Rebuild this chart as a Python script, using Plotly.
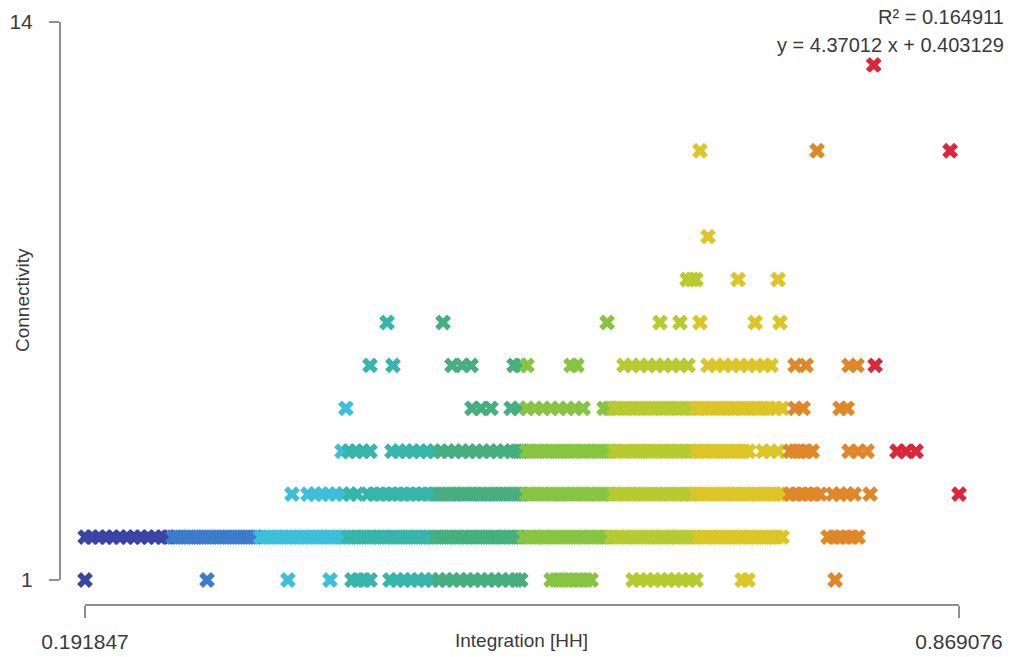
import plotly.graph_objects as go

# ---------------- data ----------------
XMIN = 0.191847
XMAX = 0.869076
R2_TEXT = "R\u00b2 = 0.164911"
EQ_TEXT = "y = 4.37012 x + 0.403129"
X_TITLE = "Integration [HH]"
Y_TITLE = "Connectivity"
Y_TICKS = [1, 14]

# Integration values for each connectivity level
conn_1 = [0.191847, 0.2864, 0.3491, 0.3817, 0.3987, 0.4034, 0.4080, 0.4127,
          0.4282, 0.4336, 0.4390, 0.4445, 0.4499, 0.4553, 0.4607, 0.4662, 0.4716,
          0.4770, 0.4825, 0.4879, 0.4933, 0.4987, 0.5042, 0.5096, 0.5150, 0.5204,
          0.5258, 0.5295,
          0.5530, 0.5568, 0.5607, 0.5646, 0.5685, 0.5724, 0.5762, 0.5801, 0.5840,
          0.6165, 0.6219, 0.6273, 0.6328, 0.6382, 0.6436, 0.6490, 0.6545, 0.6599,
          0.6653, 0.7010, 0.7056, 0.7731]

conn_2 = [0.192, 0.1972, 0.2027, 0.2081, 0.2135, 0.2189, 0.2244, 0.2298, 0.2352,
          0.2406, 0.2461, 0.2515, 0.2561,
          0.260, 0.264, 0.268, 0.272, 0.276, 0.280, 0.284, 0.288, 0.292, 0.296,
          0.300, 0.304, 0.308, 0.312, 0.316, 0.320, 0.324, 0.328, 0.332, 0.336,
          0.340, 0.344, 0.348, 0.352, 0.356, 0.360, 0.364, 0.368, 0.372, 0.376,
          0.380, 0.384, 0.388, 0.392, 0.396, 0.400, 0.404, 0.408, 0.412, 0.416,
          0.420, 0.424, 0.428, 0.432, 0.436, 0.440, 0.444, 0.448, 0.452, 0.456,
          0.460, 0.464, 0.468, 0.472, 0.476, 0.480, 0.484, 0.488, 0.492, 0.496,
          0.500, 0.504, 0.508, 0.512, 0.516, 0.520, 0.524, 0.528, 0.532, 0.536,
          0.540, 0.544, 0.548, 0.552, 0.556, 0.560, 0.564, 0.568, 0.572, 0.576,
          0.580, 0.584, 0.588, 0.592, 0.596, 0.600, 0.604, 0.608, 0.612, 0.616,
          0.620, 0.624, 0.628, 0.632, 0.636, 0.640, 0.644, 0.648, 0.652, 0.656,
          0.660, 0.664, 0.668, 0.672, 0.676, 0.680, 0.684, 0.688, 0.692, 0.696,
          0.700, 0.704, 0.708, 0.712, 0.716, 0.720, 0.724, 0.728, 0.732,
          0.7676, 0.7723, 0.7769, 0.7816, 0.7862, 0.7909]

conn_3 = [0.3522, 0.3646, 0.3701, 0.3755, 0.3809, 0.3863, 0.3918, 0.3972, 0.4026,
          0.4111, 0.4158, 0.4204, 0.4251, 0.4297, 0.4344, 0.4390, 0.4437, 0.4483,
          0.4530, 0.4576,
          0.462, 0.466, 0.470, 0.474, 0.478, 0.482, 0.486, 0.490, 0.494, 0.498,
          0.502, 0.506, 0.510, 0.514, 0.518, 0.522, 0.526, 0.530, 0.534, 0.538,
          0.542, 0.546, 0.550, 0.554, 0.558, 0.562, 0.566, 0.570, 0.574, 0.578,
          0.582, 0.586, 0.590, 0.594, 0.598, 0.602, 0.606, 0.610, 0.614, 0.618,
          0.622, 0.626, 0.630, 0.634, 0.638, 0.642, 0.646, 0.650, 0.654, 0.658,
          0.662, 0.666, 0.670, 0.674, 0.678, 0.682, 0.686, 0.690, 0.694, 0.698,
          0.702, 0.706, 0.710, 0.714, 0.718, 0.722, 0.726, 0.730, 0.733,
          0.7382, 0.7428, 0.7475, 0.7521, 0.7568, 0.7614,
          0.7715, 0.7769, 0.7824, 0.7878, 0.8002, 0.869076]

conn_4 = [0.3910, 0.3964, 0.4018, 0.4073, 0.4127,
          0.4297, 0.4352, 0.4406, 0.4460, 0.4514, 0.4569, 0.4623, 0.4677, 0.4731,
          0.4786, 0.4840, 0.4894, 0.4948, 0.5003, 0.5057, 0.5111, 0.5165, 0.5220,
          0.526, 0.530, 0.534, 0.538, 0.542, 0.546, 0.550, 0.554, 0.558, 0.562,
          0.566, 0.570, 0.574, 0.578, 0.582, 0.586, 0.590, 0.594, 0.598, 0.602,
          0.606, 0.610, 0.614, 0.618, 0.622, 0.626, 0.630, 0.634, 0.638, 0.642,
          0.646, 0.650, 0.654, 0.658, 0.662, 0.666, 0.670, 0.674, 0.678, 0.682,
          0.686, 0.690, 0.694, 0.698, 0.702, 0.706,
          0.7173, 0.7227, 0.7289,
          0.7382, 0.7421, 0.7460, 0.7506, 0.7553,
          0.7839, 0.7909, 0.7979,
          0.8211, 0.8281, 0.8358]

conn_5 = [0.3940, 0.4917, 0.4987, 0.5064,
          0.5220, 0.5282, 0.5344, 0.5406, 0.5468, 0.5530, 0.5592, 0.5654, 0.5716,
          0.5778,
          0.594, 0.598, 0.602, 0.606, 0.610, 0.614, 0.618, 0.622, 0.626, 0.630,
          0.634, 0.638, 0.642, 0.646, 0.650, 0.654, 0.658, 0.662, 0.666, 0.670,
          0.674, 0.678, 0.682, 0.686, 0.690, 0.694, 0.698, 0.702, 0.706, 0.710,
          0.714, 0.718, 0.722, 0.727, 0.732,
          0.7421, 0.7483, 0.7769, 0.7824]

conn_6 = [0.4127, 0.4305, 0.4762, 0.4840, 0.4910, 0.5243, 0.5289, 0.5343,
          0.5685, 0.5731,
          0.6095, 0.6157, 0.6219, 0.6281, 0.6343, 0.6405, 0.6467, 0.6529, 0.6591,
          0.6746, 0.6808, 0.6870, 0.6932, 0.6994, 0.7056, 0.7118, 0.7180, 0.7235,
          0.7421, 0.7506, 0.7839, 0.7901, 0.8041]

conn_7 = [0.4259, 0.4693, 0.5964, 0.6374, 0.6529, 0.6684, 0.7111, 0.7304]
conn_8 = [0.6584, 0.6622, 0.6653, 0.6979, 0.7289]
conn_9 = [0.6746]
conn_11 = [0.6684, 0.7591, 0.8622]
conn_13 = [0.803]

CLASS_COLORS = ['#3a44a3', '#3d7bcb', '#3dbfd9', '#38b5ab', '#46ae7f',
                '#86c441', '#b7cb30', '#dcc526', '#e0872a', '#d9283a']

# ---------------- build ----------------
rows = {1: conn_1, 2: conn_2, 3: conn_3, 4: conn_4, 5: conn_5, 6: conn_6,
        7: conn_7, 8: conn_8, 9: conn_9, 11: conn_11, 13: conn_13}
xs, ys = [], []
for level, vals in rows.items():
    xs.extend(vals)
    ys.extend([level] * len(vals))

n = len(CLASS_COLORS)
colorscale = []
for i, c in enumerate(CLASS_COLORS):
    colorscale.append([i / n, c])
    colorscale.append([(i + 1) / n, c])

FONT = "Liberation Sans, Arial, sans-serif"
AX = '#8f8f8f'
TXT = '#3a3a3a'

fig = go.Figure(go.Scatter(
    x=xs, y=ys, mode='markers', cliponaxis=False, hoverinfo='x+y',
    marker=dict(symbol='x', size=14, color=xs, colorscale=colorscale,
                cmin=XMIN, cmax=XMAX, line=dict(width=0)),
))

W, H = 1011, 657
L, R, T, B = 60, 52, 22, 52
PW, PH = W - L - R, H - T - B

fig.update_layout(
    width=W, height=H, autosize=False,
    margin=dict(l=L, r=R, t=T, b=B, pad=0, autoexpand=False),
    paper_bgcolor='white', plot_bgcolor='white',
    showlegend=False,
    font=dict(family=FONT, size=19, color=TXT),
    xaxis=dict(domain=[25 / PW, 1], range=[XMIN, XMAX], anchor='free', position=0,
               automargin=False,
               showgrid=False, zeroline=False, showline=True, linecolor=AX,
               linewidth=2, ticks='outside', ticklen=12, tickwidth=2,
               tickcolor=AX, tickvals=[XMIN, XMAX],
               ticktext=[f"{XMIN:.6f}", f"{XMAX:.6f}"],
               tickfont=dict(size=21, color=TXT), ticklabelstandoff=6),
    yaxis=dict(domain=[25 / PH, 1], range=[1, 14], anchor='free', position=0,
               automargin=False,
               showgrid=False, zeroline=False, showline=True, linecolor=AX,
               linewidth=2, ticks='outside', ticklen=10, tickwidth=2,
               tickcolor=AX, tickvals=Y_TICKS, ticktext=[str(v) for v in Y_TICKS],
               tickfont=dict(size=21, color=TXT), ticklabelstandoff=12),
    annotations=[
        dict(text=X_TITLE, xref='paper', yref='paper',
             x=(521 - L) / PW, y=(H - B - 640) / PH, showarrow=False,
             xanchor='center', yanchor='middle', font=dict(size=19, color=TXT)),
        dict(text=Y_TITLE, xref='paper', yref='paper', textangle=-90,
             x=(22 - L) / PW, y=(H - B - 300) / PH, showarrow=False,
             xanchor='center', yanchor='middle', font=dict(size=19, color=TXT)),
        dict(text=R2_TEXT, xref='paper', yref='paper',
             x=(1006 - L) / PW, y=(H - B - 17) / PH, showarrow=False,
             xanchor='right', yanchor='middle', font=dict(size=20, color=TXT)),
        dict(text=EQ_TEXT, xref='paper', yref='paper',
             x=(1006 - L) / PW, y=(H - B - 45) / PH, showarrow=False,
             xanchor='right', yanchor='middle', font=dict(size=20, color=TXT)),
    ],
)

fig.write_html(
    "out.html",
    config={"responsive": False, "displayModeBar": False},
    post_script="document.body.style.margin='0';document.body.style.overflow='hidden';",
)
